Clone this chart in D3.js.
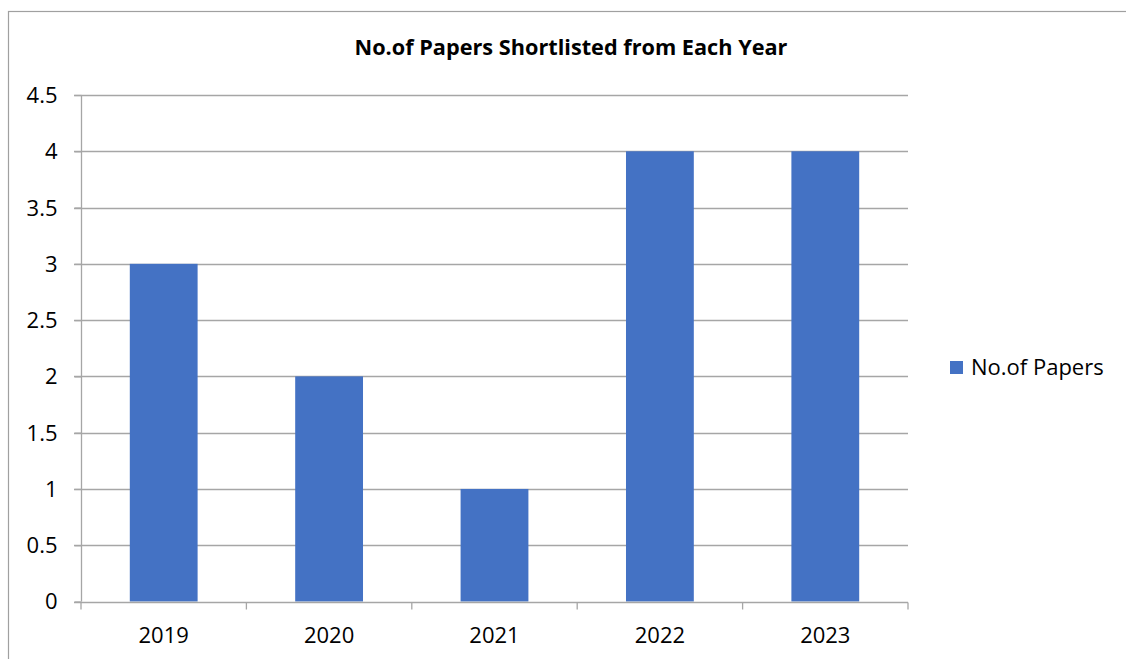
<!DOCTYPE html>
<html>
<head>
<meta charset="utf-8">
<script src="https://cdn.jsdelivr.net/npm/d3@7"></script>
<style>
  html, body { margin: 0; padding: 0; background: #fff; }
  svg { display: block; }
  text { font-family: "Open Sans", "Liberation Sans", sans-serif; fill: #000; }
</style>
</head>
<body>
<svg id="chart" width="1126" height="659"></svg>
<script>
const categories = ["2019", "2020", "2021", "2022", "2023"];
const seriesName = "No.of Papers";
const values = [3, 2, 1, 4, 4];
const yTicks = [0, 0.5, 1, 1.5, 2, 2.5, 3, 3.5, 4, 4.5];
const title = "No.of Papers Shortlisted from Each Year";

const svg = d3.select("#chart");
const W = 1126, H = 659;
const plot = { left: 81, right: 908, top: 95, bottom: 601.5 };
const barColor = "#4472C4";
const gridColor = "#A6A6A6";

// outer chart frame
svg.append("rect")
  .attr("x", 8.5).attr("y", 11.5)
  .attr("width", W + 20).attr("height", H + 20)
  .attr("fill", "none").attr("stroke", "#A0A0A0").attr("stroke-width", 1.2);

const x = d3.scaleBand().domain(categories).range([plot.left, plot.right]).paddingInner(0.59).paddingOuter(0.295);
const y = d3.scaleLinear().domain([0, 4.5]).range([plot.bottom, plot.top]);

// gridlines
svg.append("g").selectAll("line").data(yTicks.filter(d => d > 0)).join("line")
  .attr("x1", plot.left - 7).attr("x2", plot.right)
  .attr("y1", d => Math.round(y(d)) + 0.5).attr("y2", d => Math.round(y(d)) + 0.5)
  .attr("stroke", gridColor).attr("stroke-width", 1.3);

// bars
svg.append("g").selectAll("rect").data(values).join("rect")
  .attr("x", (d, i) => x(categories[i]))
  .attr("width", x.bandwidth())
  .attr("y", d => y(d))
  .attr("height", d => y(0) - y(d))
  .attr("fill", barColor);

// y axis
const yAxis = d3.axisLeft(y).tickValues(yTicks).tickSize(7).tickPadding(17).tickFormat(d => String(d));
const gy = svg.append("g").attr("transform", `translate(${plot.left + 0.5},0)`).call(yAxis);
gy.select(".domain").attr("stroke", gridColor).attr("stroke-width", 1.3).attr("d", `M0,${plot.top}V${plot.bottom}`);
gy.selectAll(".tick line").attr("stroke", gridColor).attr("stroke-width", 1.3);
gy.selectAll(".tick text").attr("font-size", 22).attr("font-family", '"Open Sans", sans-serif').attr("fill", "#000").attr("dy", "0.34em");

// x axis
const xAxisG = svg.append("g").attr("transform", `translate(0,${Math.round(plot.bottom) + 0.5})`);
xAxisG.append("line").attr("x1", plot.left - 7).attr("x2", plot.right).attr("y1", 0).attr("y2", 0)
  .attr("stroke", gridColor).attr("stroke-width", 1.3);
const bounds = d3.range(categories.length + 1).map(i => plot.left + i * (plot.right - plot.left) / categories.length);
xAxisG.selectAll("line.tk").data(bounds).join("line").attr("class", "tk")
  .attr("x1", d => d).attr("x2", d => d).attr("y1", 0).attr("y2", 7)
  .attr("stroke", gridColor).attr("stroke-width", 1.3);
xAxisG.selectAll("text").data(categories).join("text")
  .attr("x", d => x(d) + x.bandwidth() / 2).attr("y", 40)
  .attr("text-anchor", "middle").attr("font-size", 22).text(d => d);

// title
svg.append("text").attr("x", 571).attr("y", 55).attr("text-anchor", "middle")
  .attr("font-size", 21.7).attr("font-weight", "bold").text(title);

// legend
const lg = svg.append("g").attr("transform", "translate(950,361)");
lg.append("rect").attr("width", 13).attr("height", 13).attr("fill", barColor);
lg.append("text").attr("x", 21).attr("y", 14).attr("font-size", 22).text(seriesName);
</script>
</body>
</html>
